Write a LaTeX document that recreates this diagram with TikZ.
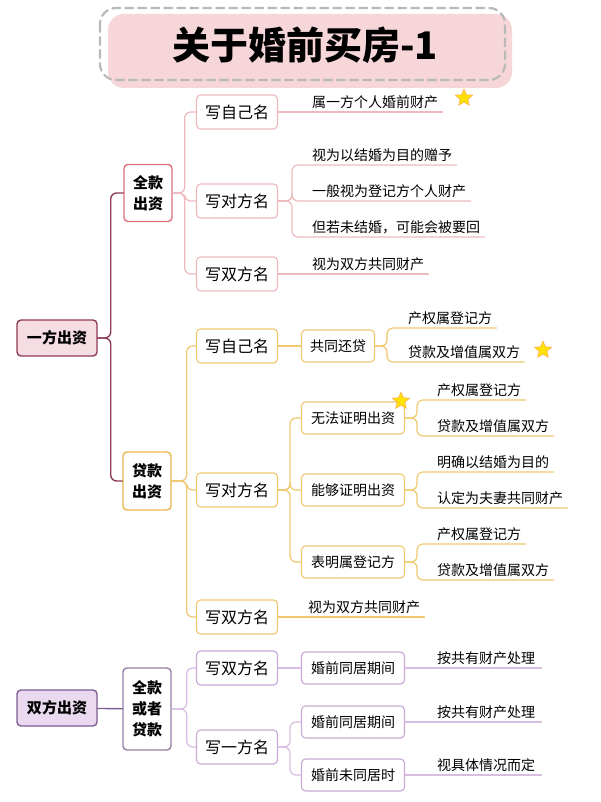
\documentclass[tikz,border=0pt]{standalone}
\usepackage{fontspec}
\setmainfont{Noto Sans CJK SC}
\usetikzlibrary{shapes.geometric,positioning}
\definecolor{rootpink}{HTML}{F6DDE3}
\definecolor{maroon}{HTML}{8E3B55}
\definecolor{rosy}{HTML}{D9737B}
\definecolor{rosyline}{HTML}{EDB9BD}
\definecolor{gold}{HTML}{E8B54D}
\definecolor{goldline}{HTML}{F0C870}
\definecolor{plum}{HTML}{7B5C8F}
\definecolor{lilac}{HTML}{C9A8D6}
\definecolor{lilacline}{HTML}{D8BCE2}
\definecolor{lilacfill}{HTML}{EBDAEF}
\definecolor{titlepink}{HTML}{F6D6D8}
\tikzstyle{rootbox} = [rectangle, rounded corners=4pt, minimum width=80pt, minimum height=36pt, line width=1.4pt, font=\fontsize{15}{17}\selectfont\bfseries]
\tikzstyle{midbox} = [rectangle, rounded corners=4pt, minimum width=48pt, line width=1.4pt, fill=white, align=center, font=\fontsize{15}{21}\selectfont\bfseries]
\tikzstyle{namebox} = [rectangle, rounded corners=4pt, minimum width=81pt, minimum height=34pt, line width=1.1pt, fill=white, font=\fontsize{16}{18}\selectfont]
\tikzstyle{casebox} = [rectangle, rounded corners=4pt, minimum width=103pt, minimum height=32pt, line width=1.1pt, fill=white, font=\fontsize{14}{16}\selectfont]
\tikzstyle{leaf} = [anchor=south west, inner xsep=4pt, inner ysep=3pt, font=\fontsize{14}{16}\selectfont]
\tikzstyle{starmark} = [star, star points=5, star point ratio=2.2, minimum size=18pt, inner sep=0pt, fill=yellow!85!orange, draw=orange!70, line width=0.5pt]
\begin{document}
\begin{tikzpicture}[x=1pt, y=-1pt, line cap=round]
	\useasboundingbox (0,0) rectangle (600,802);

	% Title
	\fill[titlepink, rounded corners=16pt] (108,14) rectangle (512,88);
	\draw[gray!55, dashed, line width=2.2pt, dash pattern=on 8pt off 5pt, rounded corners=16pt] (100,8) rectangle (505,80);
	\node (title) at (305,45) {\fontsize{38}{40}\selectfont\bfseries 关于婚前买房-1};

	% Roots
	\node (one) [rootbox, draw=maroon, fill=rootpink] at (57,338) {一方出资};
	\node (both) [rootbox, draw=plum, fill=lilacfill] at (57,708) {双方出资};

	% Second level
	\node (fullA) [midbox, draw=rosy, minimum height=57pt] at (148,193) {全款\\出资};
	\node (loanA) [midbox, draw=gold, minimum height=58pt] at (147,481) {贷款\\出资};
	\node (mixB) [midbox, draw=plum!80, minimum height=82pt] at (147,709) {全款\\或者\\贷款};

	\draw[maroon, line width=1.4pt, rounded corners=6pt] (one.east) -- ++(13,0) |- (fullA.west);
	\draw[maroon, line width=1.4pt, rounded corners=6pt] (one.east) -- ++(13,0) |- (loanA.west);
	\draw[plum, line width=1.4pt] (both) -- (mixB);

	% Full payment branch
	\node (fOwn) [namebox, draw=rosyline] at (237,112) {写自己名};
	\node (fOther) [namebox, draw=rosyline] at (237,201) {写对方名};
	\node (fBoth) [namebox, draw=rosyline] at (237,274) {写双方名};
	\foreach \n in {fOwn,fOther,fBoth}
		\draw[rosyline, line width=1.2pt, rounded corners=6pt] (fullA.east) -- ++(12,0) |- (\n.west);

	\node (fOwnA) [leaf] at (308,112) {属一方个人婚前财产};
	\node (fOtherA) [leaf] at (308,165) {视为以结婚为目的赠予};
	\node (fOtherB) [leaf] at (308,201) {一般视为登记方个人财产};
	\node (fOtherC) [leaf] at (308,237) {但若未结婚，可能会被要回};
	\node (fBothA) [leaf] at (308,274) {视为双方共同财产};
	\node (starA) [starmark] at (464,98) {};
	\draw[rosyline, line width=1.2pt] (fOwn.east) -- (fOwnA.south east);
	\foreach \n in {fOtherA,fOtherB,fOtherC}
		\draw[rosyline, line width=1.2pt, rounded corners=6pt] (fOther.east) -- ++(14,0) |- (\n.south east);
	\draw[rosyline, line width=1.2pt] (fBoth.east) -- (fBothA.south east);

	% Loan branch
	\node (lOwn) [namebox, draw=goldline] at (237,346) {写自己名};
	\node (lOther) [namebox, draw=goldline] at (237,490) {写对方名};
	\node (lBoth) [namebox, draw=goldline] at (237,617) {写双方名};
	\foreach \n in {lOwn,lOther,lBoth}
		\draw[goldline, line width=1.2pt, rounded corners=6pt] (loanA.east) -- ++(15,0) |- (\n.west);

	\node (repay) [casebox, draw=goldline, minimum width=73pt] at (338,346) {共同还贷};
	\node (noProof) [casebox, draw=goldline] at (353,418) {无法证明出资};
	\node (canProof) [casebox, draw=goldline] at (353,490) {能够证明出资};
	\node (declare) [casebox, draw=goldline] at (353,562) {表明属登记方};
	\draw[goldline, line width=1.2pt] (lOwn) -- (repay);
	\foreach \n in {noProof,canProof,declare}
		\draw[goldline, line width=1.2pt, rounded corners=6pt] (lOther.east) -- ++(12,0) |- (\n.west);

	\node (repayA) [leaf] at (404,328) {产权属登记方};
	\node (repayB) [leaf] at (404,362) {贷款及增值属双方};
	\node (noProofA) [leaf] at (433,400) {产权属登记方};
	\node (noProofB) [leaf] at (433,436) {贷款及增值属双方};
	\node (canProofA) [leaf] at (433,472) {明确以结婚为目的};
	\node (canProofB) [leaf] at (433,508) {认定为夫妻共同财产};
	\node (declareA) [leaf] at (433,544) {产权属登记方};
	\node (declareB) [leaf] at (433,580) {贷款及增值属双方};
	\node (lBothA) [leaf] at (304,617) {视为双方共同财产};
	\node (starB) [starmark] at (543,350) {};
	\node (starC) [starmark] at (401,401) {};
	\foreach \p/\a/\b in {repay/repayA/repayB,noProof/noProofA/noProofB,canProof/canProofA/canProofB,declare/declareA/declareB} {
		\draw[goldline, line width=1.2pt, rounded corners=6pt] (\p.east) -- ++(12,0) |- (\a.south east);
		\draw[goldline, line width=1.2pt, rounded corners=6pt] (\p.east) -- ++(12,0) |- (\b.south east);
	}
	\draw[goldline, line width=1.2pt] (lBoth.east) -- (lBothA.south east);

	% Both parties branch
	\node (bBoth) [namebox, draw=lilac] at (237,668) {写双方名};
	\node (bOne) [namebox, draw=lilac] at (237,747) {写一方名};
	\foreach \n in {bBoth,bOne}
		\draw[lilacline, line width=1.2pt, rounded corners=6pt] (mixB.east) -- ++(15,0) |- (\n.west);

	\node (cohabA) [casebox, draw=lilac] at (353,668) {婚前同居期间};
	\node (cohabB) [casebox, draw=lilac] at (353,722) {婚前同居期间};
	\node (apart) [casebox, draw=lilac] at (353,775) {婚前未同居时};
	\draw[lilacline, line width=1.2pt] (bBoth) -- (cohabA);
	\foreach \n in {cohabB,apart}
		\draw[lilacline, line width=1.2pt, rounded corners=6pt] (bOne.east) -- ++(12,0) |- (\n.west);

	\node (cohabAA) [leaf, inner xsep=6pt] at (431,668) {按共有财产处理};
	\node (cohabBA) [leaf, inner xsep=6pt] at (431,722) {按共有财产处理};
	\node (apartA) [leaf, inner xsep=6pt] at (431,775) {视具体情况而定};
	\draw[lilacline, line width=1.2pt] (cohabA.east) -- (cohabAA.south east);
	\draw[lilacline, line width=1.2pt] (cohabB.east) -- (cohabBA.south east);
	\draw[lilacline, line width=1.2pt] (apart.east) -- (apartA.south east);
\end{tikzpicture}
\end{document}
